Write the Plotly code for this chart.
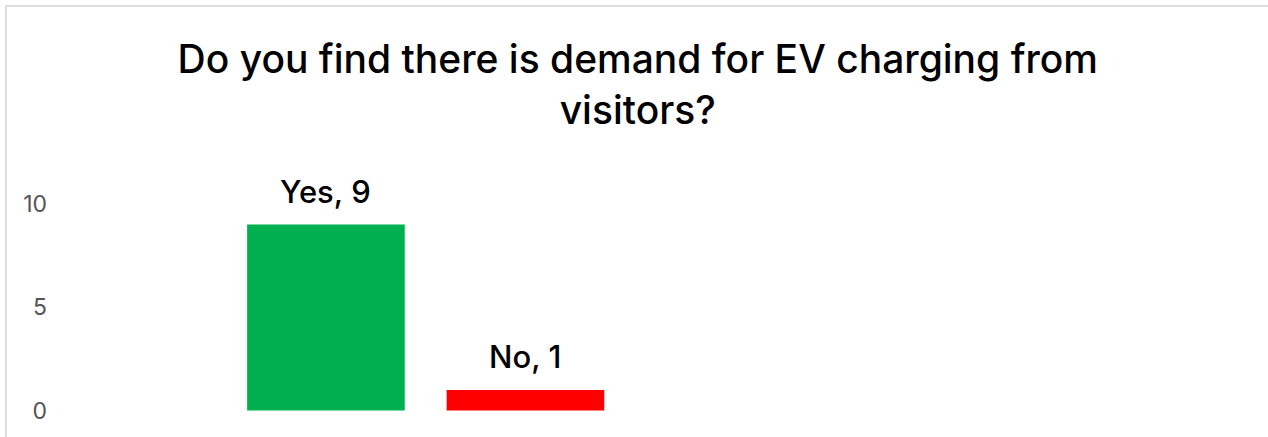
import plotly.graph_objects as go

categories = ["Yes", "No"]
values = [9, 1]
colors = ["#00AF50", "#FF0000"]
tick_vals = [0, 5, 10]
title_text = "Do you find there is demand for EV charging from<br>visitors?"

FONT = "Inter"

W, H = 1268, 437
pl, pr, pt, pb = 60, 10, 180, 0
pw, ph = W - pl - pr, H - pt - pb

fig = go.Figure()
fig.add_trace(go.Bar(
    x=categories, y=values,
    marker=dict(color=colors, line=dict(width=0)),
    hoverinfo="skip",
))

for c, v in zip(categories, values):
    fig.add_annotation(
        x=c, y=v, text=f"{c}, {v}", showarrow=False,
        yanchor="bottom", yshift=13,
        font=dict(family=FONT, size=31, color="#000000", weight=500),
    )

fig.update_layout(
    width=W, height=H,
    margin=dict(l=pl, r=pr, t=pt, b=pb, autoexpand=False),
    paper_bgcolor="white", plot_bgcolor="white",
    bargap=0.21,
    showlegend=False,
    title=dict(text=title_text, x=0.503, xanchor="center", y=0.833, yanchor="top",
               font=dict(family=FONT, size=39, color="#000000", weight=500)),
    xaxis=dict(type="category", range=[-1.333, 4.672], showticklabels=False,
               showgrid=False, zeroline=False, showline=False, ticks=""),
    yaxis=dict(range=[-1.28, 11.16], tickvals=tick_vals, showgrid=False, zeroline=False,
               showline=False, ticks="", ticklabelstandoff=12,
               tickfont=dict(family=FONT, size=23, color="#555555")),
)

# chart border (only top and left edges are visible)
def px_x(x): return (x - pl) / pw
def px_y(y): return (H - pb - y) / ph
fig.add_shape(type="line", xref="paper", yref="paper",
              x0=px_x(6), x1=px_x(1290), y0=px_y(6), y1=px_y(6),
              line=dict(color="#DDDDDD", width=2), layer="below")
fig.add_shape(type="line", xref="paper", yref="paper",
              x0=px_x(6), x1=px_x(6), y0=px_y(6), y1=px_y(460),
              line=dict(color="#DDDDDD", width=2), layer="below")

fig.write_html("out.html", config={"displayModeBar": False},
               post_script="document.body.style.margin='0';document.body.style.overflow='hidden';")
